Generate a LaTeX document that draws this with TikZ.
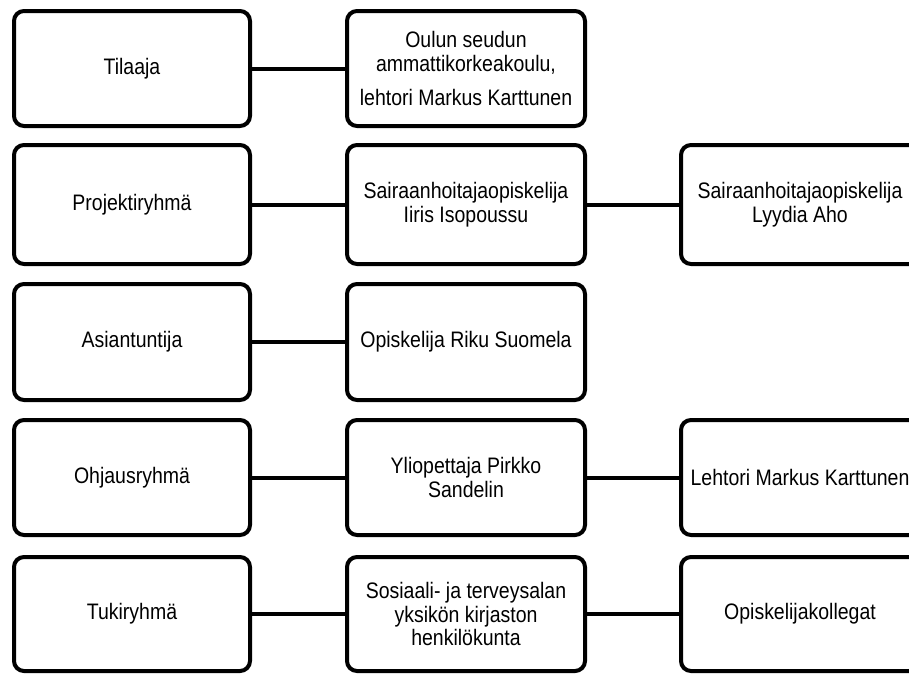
\documentclass[tikz,border=0pt]{standalone}
\usepackage{fontspec}
\setmainfont{Liberation Sans}[FakeStretch=0.87]
\newcommand{\boxfont}{\fontsize{22.4}{23.5}\selectfont}

\begin{document}
\begin{tikzpicture}[x=1pt, y=-1pt,
    box/.style={draw, line width=4pt, rounded corners=10pt, inner sep=0pt,
        minimum width=238pt, align=center, font=\boxfont},
    link/.style={line width=4pt}]
    \path[use as bounding box, clip] (0,0) rectangle (909,675);

    % vasen sarake
    \node[box, minimum width=236pt, minimum height=115pt] (tilaaja) at (132,68.5) {Tilaaja};
    \node[box, minimum width=236pt, minimum height=119pt] (projekti) at (132,204.5) {Projektiryhmä};
    \node[box, minimum width=236pt, minimum height=116pt] (asiant) at (132,342) {Asiantuntija};
    \node[box, minimum width=236pt, minimum height=115pt] (ohjaus) at (132,477.5) {Ohjausryhmä};
    \node[box, minimum width=236pt, minimum height=114pt] (tuki) at (132,614) {Tukiryhmä};

    % keskisarake
    \node[box, minimum height=115pt] (oamk) at (466,68.5)
        {Oulun seudun\\ammattikorkeakoulu,\\[11pt]lehtori Markus Karttunen};
    \node[box, minimum height=119pt] (iiris) at (466,204.5)
        {Sairaanhoitajaopiskelija\\Iiris Isopoussu};
    \node[box, minimum height=116pt] (riku) at (466,342) {Opiskelija Riku Suomela};
    \node[box, minimum height=115pt] (pirkko) at (466,477.5) {Yliopettaja Pirkko\\Sandelin};
    \node[box, minimum height=114pt] (kirjasto) at (466,614)
        {Sosiaali- ja terveysalan\\yksikön kirjaston\\henkilökunta};

    % oikea sarake
    \node[box, minimum height=119pt] (lyydia) at (800,204.5)
        {Sairaanhoitajaopiskelija\\Lyydia Aho};
    \node[box, minimum height=115pt] (markus) at (800,477.5) {Lehtori Markus Karttunen};
    \node[box, minimum height=114pt] (kollegat) at (800,614) {Opiskelijakollegat};

    \draw[link] (tilaaja) -- (oamk);
    \draw[link] (projekti) -- (iiris);
    \draw[link] (iiris) -- (lyydia);
    \draw[link] (asiant) -- (riku);
    \draw[link] (ohjaus) -- (pirkko);
    \draw[link] (pirkko) -- (markus);
    \draw[link] (tuki) -- (kirjasto);
    \draw[link] (kirjasto) -- (kollegat);
\end{tikzpicture}
\end{document}
